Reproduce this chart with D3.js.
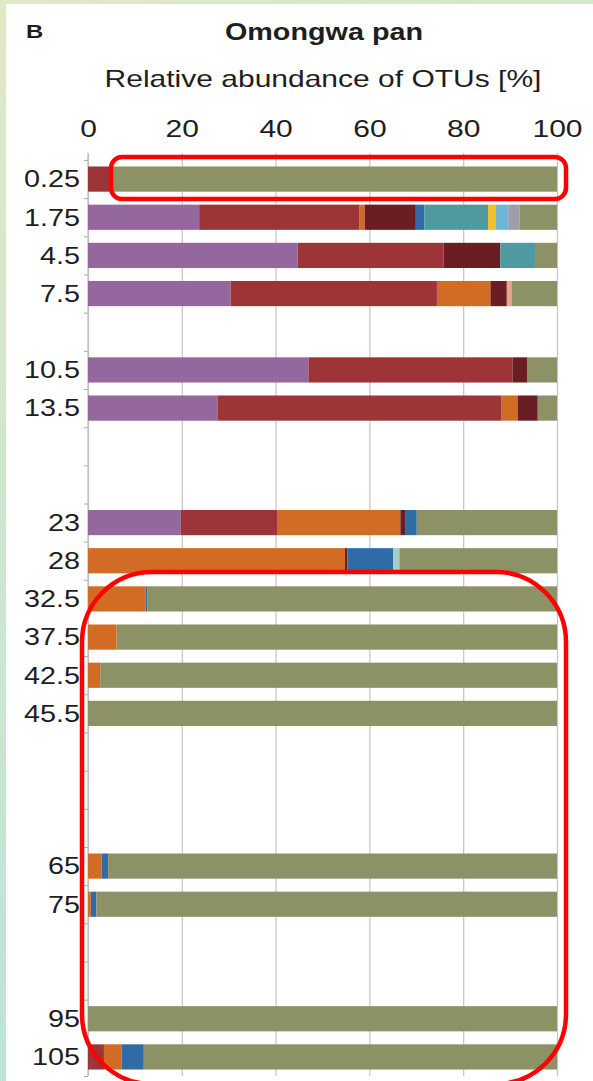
<!DOCTYPE html>
<html>
<head>
<meta charset="utf-8">
<script src="https://cdn.jsdelivr.net/npm/d3@7"></script>
<style>
  html, body { margin: 0; padding: 0; background: #fff; }
  svg { display: block; }
  text { font-family: "Liberation Sans", Arial, Helvetica, sans-serif; fill: #1e1e1e; }
</style>
</head>
<body>
<svg id="chart" width="593" height="1081"></svg>
<script>
// Sampling depths (cm); empty strings are depth slots without a sample
const depths = ["0.25","1.75","4.5","7.5","","10.5","13.5","","","23","28","32.5",
                "37.5","42.5","45.5","","","","65","75","","","95","105"];

// Relative abundance (%) of each OTU group per depth slot
const purple    = [0,23.7,44.7,30.4,0,47.0,27.6,0,0,19.8,0,0,0,0,0,0,0,0,0,0,0,0,0,0];
const red       = [4.7,34.1,31.1,44.0,0,43.5,60.6,0,0,20.5,0,0,0,0,0,0,0,0,0,0,0,0,0,3.4];
const orange    = [0,1.2,0,11.4,0,0,3.4,0,0,26.3,54.8,12.3,6.1,2.6,0,0,0,0,2.9,0.6,0,0,0,3.8];
const maroon    = [0,10.9,12.1,3.5,0,3.1,4.3,0,0,1.0,0.5,0,0,0,0,0,0,0,0,0,0,0,0,0];
const pink      = [0,0,0,1.0,0,0,0,0,0,0,0,0,0,0,0,0,0,0,0,0,0,0,0,0];
const blue      = [0,1.8,0,0,0,0,0,0,0,2.5,9.8,0.4,0,0,0,0,0,0,1.4,1.2,0,0,0,4.7];
const paleCyan  = [0,0,0,0,0,0,0,0,0,0,1.3,0,0,0,0,0,0,0,0,0,0,0,0,0];
const teal      = [0,13.6,7.6,0,0,0,0,0,0,0,0,0,0,0,0,0,0,0,0,0,0,0,0,0];
const yellow    = [0,1.7,0,0,0,0,0,0,0,0,0,0,0,0,0,0,0,0,0,0,0,0,0,0];
const lightBlue = [0,2.6,0,0,0,0,0,0,0,0,0,0,0,0,0,0,0,0,0,0,0,0,0,0];
const grey      = [0,2.4,0,0,0,0,0,0,0,0,0,0,0,0,0,0,0,0,0,0,0,0,0,0];
const olive     = [95.3,8.0,4.5,9.7,0,6.4,4.1,0,0,29.9,33.6,87.3,93.9,97.4,100,0,0,0,95.7,98.2,0,0,100,88.1];

const groupNames = ["purple","red","orange","maroon","pink","blue","paleCyan","teal","yellow","lightBlue","grey","olive"];
const groupValues = [purple,red,orange,maroon,pink,blue,paleCyan,teal,yellow,lightBlue,grey,olive];
const groupColors = ["#94679f","#9d3437","#d26b24","#6a1e23","#e9a48f","#2f6ca7","#a6cccc",
                     "#4f99a0","#f1c02f","#6bb7d6","#9d9ea8","#8c9265"];

const xTicks = [0,20,40,60,80,100];

// Build one record per depth slot for d3.stack
const table = depths.map((d, i) => {
  const row = { slot: i };
  groupNames.forEach((g, j) => { row[g] = groupValues[j][i]; });
  return row;
});

const svg = d3.select("#chart");
const W = 593, H = 1081;
const stretchK = 1.25;

// widen text horizontally to the figure's aspect
function stretch(sel) {
  sel.each(function() {
    const w = this.getComputedTextLength();
    if (w > 0) {
      this.setAttribute("textLength", (w * stretchK).toFixed(1));
      this.setAttribute("lengthAdjust", "spacingAndGlyphs");
    }
  });
}

// page frame
const defs = svg.append("defs");
const gTop = defs.append("linearGradient").attr("id", "frameTop");
gTop.append("stop").attr("offset", "0%").attr("stop-color", "#dfe9c6");
gTop.append("stop").attr("offset", "100%").attr("stop-color", "#d0e8cc");
const gLeft = defs.append("linearGradient").attr("id", "frameLeft")
  .attr("x1", 0).attr("y1", 0).attr("x2", 0).attr("y2", 1);
gLeft.append("stop").attr("offset", "0%").attr("stop-color", "#dfe9c6");
gLeft.append("stop").attr("offset", "100%").attr("stop-color", "#bde4d7");
svg.append("rect").attr("width", W).attr("height", H).attr("fill", "#fff");
svg.append("rect").attr("x", 0).attr("y", 0).attr("width", W).attr("height", 4).attr("fill", "url(#frameTop)");
svg.append("rect").attr("x", 0).attr("y", 0).attr("width", 6).attr("height", H).attr("fill", "url(#frameLeft)");

// scales
const x = d3.scaleLinear().domain([0, 100]).range([88, 557]);
const y = d3.scaleBand().domain(d3.range(depths.length)).range([160, 1076])
  .paddingInner(0.34).paddingOuter(0.17);
const ySlots = d3.scaleLinear().domain([0, depths.length]).range([160, 1076]);

// vertical gridlines with tick labels on top
const xAxis = svg.append("g").attr("transform", "translate(0,153)")
  .call(d3.axisTop(x).tickValues(xTicks).tickSize(-(1076 - 153)).tickPadding(16));
xAxis.select(".domain").remove();
xAxis.selectAll(".tick line").attr("stroke", "#c4c4c4").attr("stroke-width", 1.2);
xAxis.selectAll(".tick text").attr("font-size", 24).attr("fill", "#1e1e1e")
  .style("font-family", "'Liberation Sans', Arial, sans-serif");

// depth axis: tick marks at slot boundaries
const yTicks = svg.append("g").attr("transform", "translate(88,0)")
  .call(d3.axisLeft(ySlots).tickValues(d3.range(0, depths.length + 1)).tickSize(4).tickFormat(""));
yTicks.select(".domain").remove();
yTicks.selectAll(".tick line").attr("stroke", "#a8a8a8");
svg.append("line").attr("x1", 88).attr("x2", 88).attr("y1", 153).attr("y2", 1076)
  .attr("stroke", "#bcbcbc").attr("stroke-width", 1.2);

// depth labels
const yAxis = svg.append("g").attr("transform", "translate(88,0)")
  .call(d3.axisLeft(y).tickSize(0).tickPadding(8).tickFormat(i => depths[i]));
yAxis.select(".domain").remove();
yAxis.selectAll(".tick text").attr("font-size", 23).attr("fill", "#1e1e1e")
  .attr("dy", "0.36em")
  .style("font-family", "'Liberation Sans', Arial, sans-serif");

// stacked bars
const stacked = d3.stack().keys(groupNames)(table);
svg.append("g").selectAll("g")
  .data(stacked)
  .join("g")
  .attr("fill", (d, i) => groupColors[i])
  .selectAll("rect")
  .data(d => d.filter(s => s[1] - s[0] > 0))
  .join("rect")
  .attr("x", d => x(d[0]))
  .attr("width", d => x(d[1]) - x(d[0]))
  .attr("y", d => y(d.data.slot))
  .attr("height", y.bandwidth());

// titles
svg.append("text").attr("x", 26).attr("y", 38).attr("font-size", 19).attr("font-weight", "bold")
  .text("B");
svg.append("text").attr("x", 324).attr("y", 40).attr("text-anchor", "middle")
  .attr("font-size", 23).attr("font-weight", "bold").text("Omongwa pan");
svg.append("text").attr("x", 323).attr("y", 87).attr("text-anchor", "middle")
  .attr("font-size", 24).text("Relative abundance of OTUs [%]");

// highlight outlines
svg.append("rect").attr("x", 111).attr("y", 157).attr("width", 455).attr("height", 42).attr("rx", 11)
  .attr("fill", "none").attr("stroke", "#ff0000").attr("stroke-width", 4.5);
svg.append("rect").attr("x", 82).attr("y", 572).attr("width", 484).attr("height", 512).attr("rx", 70)
  .attr("fill", "none").attr("stroke", "#ff0000").attr("stroke-width", 4.5);

stretch(svg.selectAll("text"));
</script>
</body>
</html>
